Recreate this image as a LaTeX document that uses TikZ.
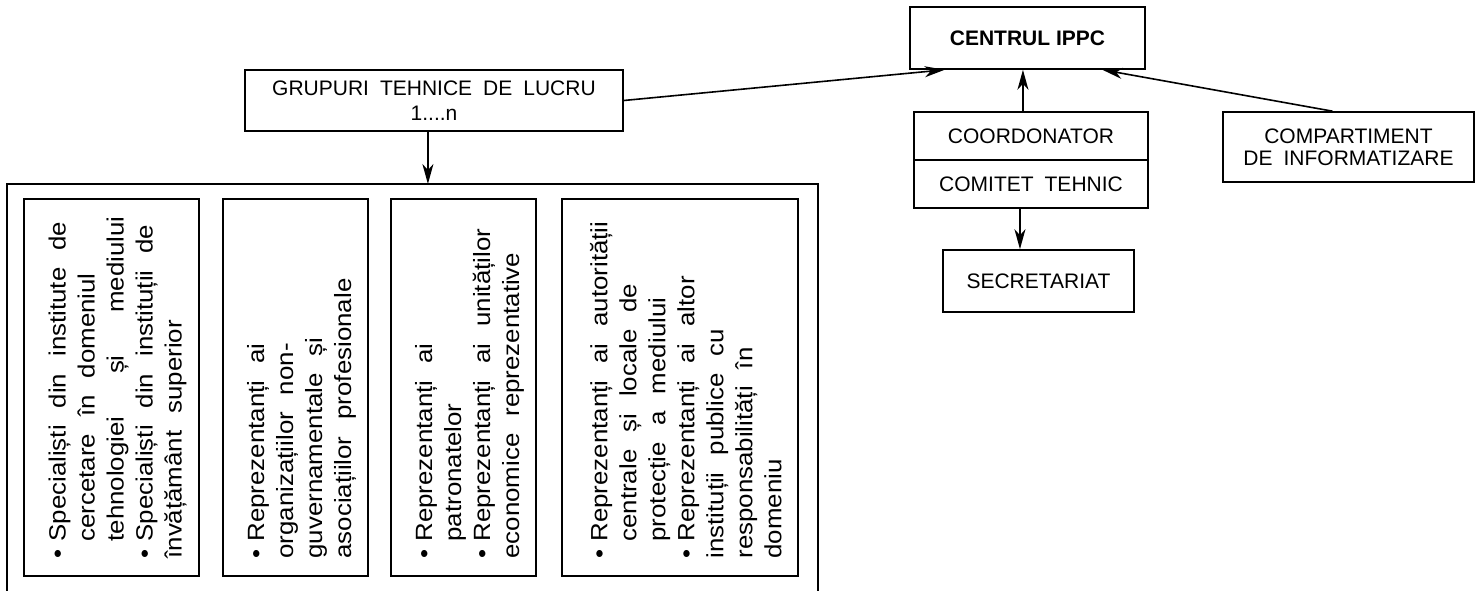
\documentclass[tikz,border=0pt]{standalone}
\usepackage{fontspec}
\setmainfont{Liberation Sans}
\newfontfamily\listfamily[FakeStretch=1.1]{Liberation Sans}
\usetikzlibrary{arrows.meta}

\newcommand{\labelfont}{\fontsize{21}{22}\selectfont\spaceskip=11pt plus 3pt\relax}
\newcommand{\listfont}{\listfamily\fontsize{23.5}{29}\selectfont\spaceskip=17pt plus 30pt minus 3pt\relax}
\newcommand{\itm}{\par\noindent\hangindent=17pt\hangafter=1\makebox[17pt][l]{\textbullet}}
\newcommand{\fullend}{{\parfillskip=0pt\par}}

\begin{document}
\begin{tikzpicture}
[x=1pt,y=-1pt,
  boxDecorate/.style={draw,line width=1.6pt,inner sep=0pt,align=center,font=\labelfont},
  listDecorate/.style={draw,line width=1.6pt,rotate=90,inner xsep=17.5pt,inner ysep=0pt,
    minimum width=377pt,text width=342pt,align=justify,font=\listfont},
  arrowDecorate/.style={-{Stealth[length=20pt,width=11pt,inset=6pt]},line width=1.6pt}]
\useasboundingbox (0,0) rectangle (1481,591);
%% boxes of the centre
\foreach \nodename/\x/\y/\w/\h/\txt in {
  centrul/1027.5/38/235/62/{\textbf{CENTRUL\hspace{6pt}IPPC}},
  grupuri/434/100.5/378/61/{GRUPURI TEHNICE DE LUCRU\\[3pt]1....n},
  coordonator/1031/136/234/48/{COORDONATOR},
  comitet/1031/184/234/48/{COMITET TEHNIC},
  secretariat/1038.5/281/191/62/{SECRETARIAT},
  compartiment/1348.5/147/251/70/{COMPARTIMENT\\DE INFORMATIZARE}}
{
  \node (\nodename) at (\x,\y) [boxDecorate,minimum width=\w pt,minimum height=\h pt] {\txt};
}
%% frame of the working groups (open at the bottom)
\draw[line width=1.6pt] (7,591) |- (818,184) -- (818,591);
\coordinate (frametop) at (428,184);
%% member lists
\node (specialisti) at (111.5,387.5) [listDecorate,minimum height=175pt] {
  \itm Specialiști din institute de\\ cercetare în domeniul\\ tehnologiei și mediului\fullend
  \itm Specialiști din instituții de\\ învățământ superior};
\node (ong) at (295.5,387.5) [listDecorate,minimum height=145pt] {
  \itm Reprezentanți ai\\ organizațiilor non-\\ guvernamentale și\\ asociațiilor profesionale};
\node (patronate) at (463.5,387.5) [listDecorate,minimum height=145pt] {
  \itm Reprezentanți ai\\ patronatelor
  \itm Reprezentanți ai unităților\\ economice reprezentative};
\node (autoritati) at (680,387.5) [listDecorate,minimum height=236pt] {
  \itm Reprezentanți ai autorității\\ centrale și locale de\\ protecție a mediului
  \itm Reprezentanți ai altor\\ instituții publice cu\\ responsabilități în\\ domeniu};
%% arrows
\path
\foreach \startnode/\endnode in {
  grupuri.east/centrul.201, compartiment.114/centrul.337}
{
  (\startnode) edge[arrowDecorate] (\endnode)
};
\draw[arrowDecorate] (grupuri.259) -- (grupuri.259 |- frametop);
\draw[arrowDecorate] (coordonator.108) -- (coordonator.108 |- centrul.south);
\draw[arrowDecorate] (comitet.246) -- (comitet.246 |- secretariat.north);
\end{tikzpicture}
\end{document}
